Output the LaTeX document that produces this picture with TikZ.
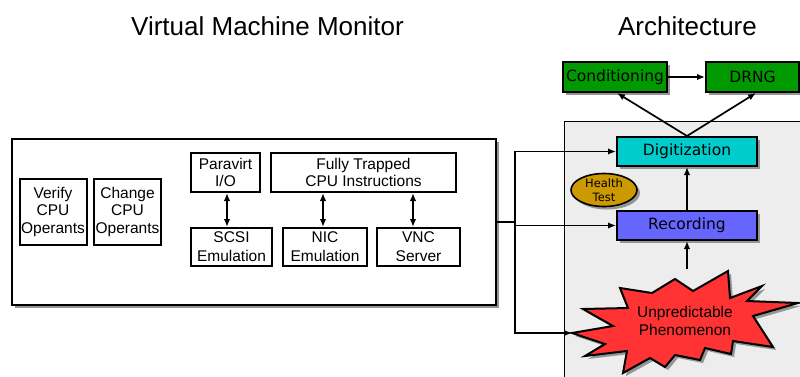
\documentclass[tikz,border=0pt]{standalone}
\usepackage{fontspec}
\setmainfont{Liberation Sans}
\newfontfamily\dvfont{DejaVu Sans}
\usetikzlibrary{arrows.meta,shapes.geometric,shadows}
\definecolor{regiongray}{HTML}{EDEDED}
\definecolor{cyanfill}{HTML}{00CCCC}
\definecolor{bluefill}{HTML}{6666FF}
\definecolor{goldfill}{HTML}{CC9900}
\definecolor{greenfill}{HTML}{009900}
\definecolor{redfill}{HTML}{FF3333}
\definecolor{shadowgray}{HTML}{959595}
\begin{document}
\begin{tikzpicture}[x=1pt,y=-1pt,
  shad/.style={drop shadow={fill=shadowgray, opacity=1, shadow xshift=3pt, shadow yshift=-3pt}},
  plainbox/.style={draw=black, line width=2pt, fill=white, inner sep=0pt, align=center,
    font=\fontsize{15.5}{17.5}\selectfont},
  lowbox/.style={plainbox, font=\fontsize{15.5}{19}\selectfont},
  rbox/.style={draw=black, line width=2pt, inner sep=0pt, align=center,
    font=\dvfont\fontsize{15.5}{18}\selectfont, shad},
  region/.style={draw=black, line width=1pt, fill=regiongray, inner sep=0pt},
  title/.style={font=\fontsize{26}{30}\selectfont, inner sep=0pt},
  conn/.style={line width=1.7pt},
  arr/.style={conn, -{Latex[length=8pt,width=6.5pt]}},
  dbl/.style={conn, {Latex[length=8pt,width=6.5pt]}-{Latex[length=8pt,width=6.5pt]}}
]
\useasboundingbox (0,0) rectangle (800,376);

% titles
\node[title, anchor=base] (t1) at (267.5,35) {Virtual Machine Monitor};
\node[title, anchor=base] (t2) at (687.5,35) {Architecture};

% architecture region
\node[region, anchor=north west, minimum width=250pt, minimum height=270pt] (arch) at (564,121) {};

% VMM
\node[plainbox, minimum width=484pt, minimum height=166pt, shad] (vmm) at (254,222) {};
\node[plainbox, minimum width=67pt, minimum height=66pt] (verify) at (53,211.5) {Verify\\CPU\\Operants};
\node[plainbox, minimum width=67pt, minimum height=66pt] (change) at (127.5,211.5) {Change\\CPU\\Operants};
\node[plainbox, minimum width=69pt, minimum height=39pt] (paravirt) at (225.5,172.5) {Paravirt\\I/O};
\node[plainbox, minimum width=185pt, minimum height=39pt] (fully) at (363.5,172.5) {Fully Trapped\\CPU Instructions};
\node[lowbox, minimum width=81pt, minimum height=38pt] (scsi) at (231.5,247) {SCSI\\Emulation};
\node[lowbox, minimum width=84pt, minimum height=38pt] (nic) at (325,247) {NIC\\Emulation};
\node[lowbox, minimum width=83pt, minimum height=38pt] (vnc) at (418.5,247) {VNC\\Server};

\draw[dbl] ([xshift=1.5pt]paravirt.south) -- ([xshift=1.5pt]paravirt.south |- scsi.north);
\draw[dbl] ([xshift=-2pt]nic.north) -- ([xshift=-2pt]nic.north |- fully.south);
\draw[dbl] ([xshift=-5.5pt]vnc.north) -- ([xshift=-5.5pt]vnc.north |- fully.south);

% starburst (unpredictable phenomenon)
\def\burst{(572,333) -- (613,326) -- (583,309) -- (628,308) -- (620,288) -- (652,293) -- (675,279) -- (693,291) -- (728,271) -- (730,298) -- (762,286) -- (747,301) -- (798,303) -- (753,316) -- (773,347) -- (733,341) -- (731,354) -- (705,348) -- (700,360) -- (675,355) -- (665,367) -- (650,358) -- (623,373) -- (627,351) -- (585,356) -- (605,344) -- cycle}
\fill[shadowgray, shift={(3,3)}] \burst;
\draw[line width=2pt, line join=miter, fill=redfill] \burst;
\node[font=\fontsize{15.5}{17.5}\selectfont, align=center, inner sep=0pt] (phen) at (685,321) {Unpredictable\\Phenomenon};
\coordinate (phenleft) at (572,333);
\coordinate (phentop) at (687,269);

% right side boxes
\node[rbox, fill=cyanfill, minimum width=140pt, minimum height=29pt] (digit) at (687,151.5) {Digitization};
\node[rbox, fill=bluefill, minimum width=140pt, minimum height=29pt] (rec) at (687,225.5) {Recording};
\node[ellipse, draw=black, line width=1.6pt, fill=goldfill, minimum width=66pt, minimum height=33pt, inner sep=0pt,
  align=center, font=\dvfont\fontsize{11.5}{13.5}\selectfont, shad] (health) at (604,190) {Health\\Test};
\node[rbox, fill=greenfill, minimum width=104pt, minimum height=30pt] (cond) at (615,77) {Conditioning};
\node[rbox, fill=greenfill, minimum width=93pt, minimum height=30pt] (drng) at (752.5,77) {DRNG};

% connectors
\coordinate (junc) at (515,222);
\draw[conn] (vmm.east) -- (junc);
\draw[arr] (junc) |- (digit.west);
\draw[arr] (junc) |- (rec.west);
\draw[arr] (junc) |- (phenleft);
\draw[arr] (phentop) -- (rec.south);
\draw[arr] (rec.north) -- (digit.south);
\draw[arr] (digit.north) -- ([xshift=2pt]cond.south);
\draw[arr] (digit.north) -- ([xshift=3.5pt]drng.south);
\draw[arr] (cond.east) -- (drng.west);
\end{tikzpicture}
\end{document}
